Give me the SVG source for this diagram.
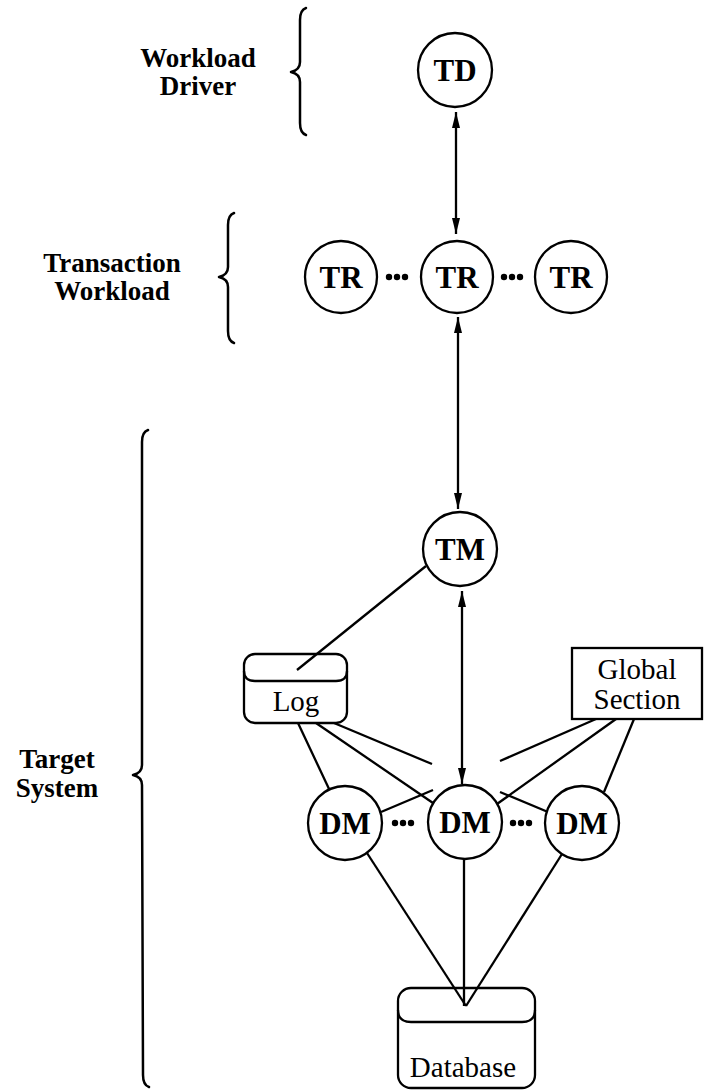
<svg xmlns="http://www.w3.org/2000/svg" width="705" height="1091" viewBox="0 0 705 1091">
<style>
.node{fill:#fff;stroke:#000;stroke-width:2.3}
.nl{font-family:"Liberation Serif",serif;font-weight:bold;font-size:31px;text-anchor:middle;fill:#000}
.bl{font-family:"Liberation Serif",serif;font-size:29px;text-anchor:middle;fill:#000}
.lab{font-family:"Liberation Serif",serif;font-weight:bold;font-size:27px;text-anchor:middle;fill:#000}
.brace{fill:none;stroke:#000;stroke-width:2.5;stroke-linecap:round;stroke-linejoin:round}
.edge{fill:none;stroke:#000;stroke-width:2.3}
.arr{fill:none;stroke:#000;stroke-width:2.3;marker-start:url(#ah);marker-end:url(#ah)}
.dot{fill:#000}
</style>
<defs>
<marker id="ah" viewBox="0 0 16 8" refX="16" refY="4" markerWidth="16" markerHeight="8" markerUnits="userSpaceOnUse" orient="auto-start-reverse">
<path d="M0,0 L16,4 L0,8 Z" fill="#000"/>
</marker>
</defs>
<rect width="705" height="1091" fill="#fff"/>

<g id="labels">
<g id="label-workload-driver">
<path class="brace" d="M306,8 Q300,10 300,20 L300,62 Q300,70 291,72 Q300,74 300,82 L300,123 Q300,133 306,135"/>
<text class="lab" x="198" y="67">Workload</text>
<text class="lab" x="198" y="95">Driver</text>
</g>
<g id="label-transaction-workload">
<path class="brace" d="M234,213 Q228,215 228,225 L228,267 Q228,275 219,277 Q228,279 228,287 L228,331 Q228,341 234,343"/>
<text class="lab" x="112" y="272">Transaction</text>
<text class="lab" x="112" y="300">Workload</text>
</g>
<g id="label-target-system">
<path class="brace" d="M148,430 Q142,432 142,442 L142,765 Q142,773 133,775 Q142,777 142,785 L143,1075 Q143,1085 149,1087"/>
<text class="lab" x="57" y="768">Target</text>
<text class="lab" x="57" y="797">System</text>
</g>
</g>

<g id="connectors">
<line class="arr" x1="456" y1="112" x2="456" y2="234"/>
<line class="arr" x1="458" y1="317" x2="458" y2="509"/>
<line class="arr" x1="462" y1="591" x2="462" y2="784"/>
<line class="edge" x1="426" y1="566" x2="297" y2="670"/>
<line class="edge" x1="298" y1="723" x2="330" y2="791"/>
<line class="edge" x1="316" y1="723" x2="433" y2="803"/>
<line class="edge" x1="334" y1="723" x2="432" y2="764"/>
<line class="edge" x1="500" y1="792" x2="548" y2="812"/>
<line class="edge" x1="596" y1="719" x2="500" y2="761"/>
<line class="edge" x1="433" y1="790" x2="381" y2="812"/>
<line class="edge" x1="616" y1="719" x2="497" y2="804"/>
<line class="edge" x1="634" y1="719" x2="604" y2="792"/>
<line class="edge" x1="367" y1="853" x2="466" y2="1006"/>
<line class="edge" x1="464" y1="860" x2="464" y2="1006"/>
<line class="edge" x1="562" y1="854" x2="466" y2="1006"/>
</g>

<g id="dots">
<circle class="dot" cx="389" cy="277" r="3.2"/><circle class="dot" cx="397" cy="277" r="3.2"/><circle class="dot" cx="405" cy="277" r="3.2"/>
<circle class="dot" cx="504" cy="277" r="3.2"/><circle class="dot" cx="512" cy="277" r="3.2"/><circle class="dot" cx="520" cy="277" r="3.2"/>
<circle class="dot" cx="395" cy="823" r="3.2"/><circle class="dot" cx="403" cy="823" r="3.2"/><circle class="dot" cx="411" cy="823" r="3.2"/>
<circle class="dot" cx="513" cy="823" r="3.2"/><circle class="dot" cx="521" cy="823" r="3.2"/><circle class="dot" cx="529" cy="823" r="3.2"/>
</g>

<g id="TD"><circle class="node" cx="455" cy="70" r="37"/><text class="nl" x="455" y="81">TD</text></g>
<g id="TR1"><circle class="node" cx="341" cy="277" r="36"/><text class="nl" x="341" y="288">TR</text></g>
<g id="TR2"><circle class="node" cx="457" cy="277" r="36"/><text class="nl" x="457" y="288">TR</text></g>
<g id="TR3"><circle class="node" cx="571" cy="277" r="36"/><text class="nl" x="571" y="288">TR</text></g>
<g id="TM"><circle class="node" cx="460" cy="549" r="37"/><text class="nl" x="460" y="560">TM</text></g>
<g id="DM1"><circle class="node" cx="345" cy="823" r="37"/><text class="nl" x="345" y="834">DM</text></g>
<g id="DM2"><circle class="node" cx="465" cy="822" r="37"/><text class="nl" x="465" y="833">DM</text></g>
<g id="DM3"><circle class="node" cx="582" cy="823" r="37"/><text class="nl" x="582" y="834">DM</text></g>

<g id="Log">
<rect x="244" y="654" width="103" height="69" rx="11" fill="none" stroke="#000" stroke-width="2.3"/>
<path d="M244,671 Q244,681 255,681 L336,681 Q347,681 347,671" fill="none" stroke="#000" stroke-width="2.3"/>
<text class="bl" x="296" y="711">Log</text>
</g>

<g id="GlobalSection">
<rect x="572" y="648" width="130" height="71" fill="#fff" stroke="#000" stroke-width="2.3"/>
<text class="bl" x="637" y="679">Global</text>
<text class="bl" x="637" y="709">Section</text>
</g>

<g id="Database">
<rect x="398" y="988" width="137" height="100" rx="13" fill="none" stroke="#000" stroke-width="2.3"/>
<path d="M398,1010 Q398,1022 411,1022 L522,1022 Q535,1022 535,1010" fill="none" stroke="#000" stroke-width="2.3"/>
<text class="bl" x="463" y="1077">Database</text>
</g>
</svg>
